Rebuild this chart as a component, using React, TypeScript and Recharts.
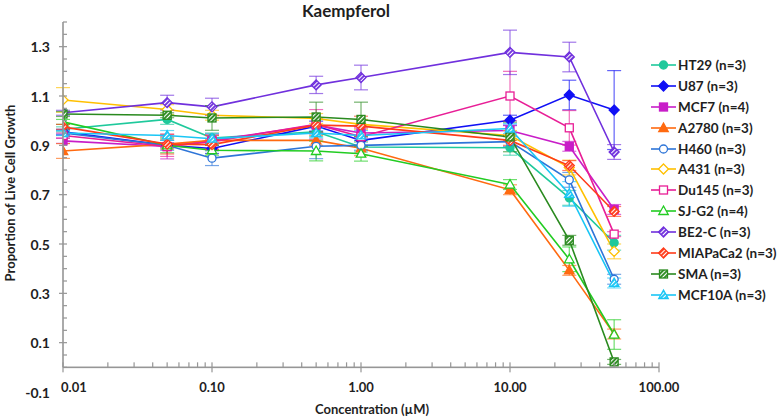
import { LineChart, Line, XAxis, YAxis, ErrorBar } from 'recharts';

const FONT = 'Lato, "Open Sans", sans-serif';
const AXIS = '#969696';
const TEXT = '#1f1f1f';

// concentrations (µM) tested for every cell line
const concentrations = [0.01, 0.05, 0.1, 0.5, 1, 10, 25, 50];

// mean proportion of live cell growth
const ht29 = [0.965, 1.005, 0.93, 0.955, 0.893, 0.89, 0.687, 0.505];
const u87 = [0.955, 0.9, 0.887, 0.978, 0.92, 1.002, 1.104, 1.043];
const mcf7 = [0.918, 0.895, 0.92, 0.982, 0.95, 0.96, 0.896, 0.64];
const a2780 = [0.877, 0.905, 0.92, 0.92, 0.888, 0.72, 0.393, 0.135];
const h460 = [0.95, 0.9, 0.848, 0.896, 0.9, 0.915, 0.76, 0.357];
const a431 = [1.084, 1.045, 1.022, 1.009, 0.985, 0.94, 0.81, 0.47];
const du145 = [0.94, 0.895, 0.915, 0.985, 0.935, 1.1, 0.971, 0.54];
const sjg2 = [0.995, 0.9, 0.88, 0.877, 0.866, 0.741, 0.438, 0.133];
const be2c = [1.032, 1.073, 1.056, 1.145, 1.175, 1.277, 1.258, 0.873];
const miapaca2 = [0.975, 0.905, 0.903, 0.982, 0.978, 0.92, 0.818, 0.632];
const sma = [1.027, 1.022, 1.011, 1.015, 1.005, 0.934, 0.515, 0.022];
const mcf10a = [0.95, 0.94, 0.927, 0.95, 0.94, 0.968, 0.703, 0.342];

// error bar half-lengths
const ht29Err = [0.01, 0.02, 0.02, 0.02, 0.02, 0.03, 0.03, 0.03];
const u87Err = [0.01, 0.01, 0.02, 0.02, 0.02, 0.02, 0.06, 0.16];
const mcf7Err = [0.01, 0.05, 0.02, 0.03, 0.02, 0.02, 0.02, 0.02];
const a2780Err = [0.03, 0.02, 0.02, 0.02, 0.03, 0.02, 0.02, 0.02];
const h460Err = [0.01, 0.02, 0.03, 0.05, 0.02, 0.02, 0.03, 0.02];
const a431Err = [0.05, 0.02, 0.02, 0.02, 0.02, 0.02, 0.03, 0.03];
const du145Err = [0.01, 0.04, 0.03, 0.06, 0.04, 0.1, 0.07, 0.01];
const sjg2Err = [0.01, 0.03, 0.02, 0.04, 0.03, 0.02, 0.05, 0.06];
const be2cErr = [0.01, 0.03, 0.035, 0.035, 0.05, 0.09, 0.06, 0.03];
const miapaca2Err = [0.01, 0.04, 0.02, 0.03, 0.04, 0.02, 0.02, 0.02];
const smaErr = [0.01, 0.01, 0.05, 0.06, 0.07, 0.06, 0.02, 0.01];
const mcf10aErr = [0.01, 0.02, 0.02, 0.02, 0.02, 0.02, 0.05, 0.02];

// axis ticks
const xMajorTicks = [0.01, 0.1, 1, 10, 100];
const xTickLabels = ['0.01', '0.10', '1.00', '10.00', '100.00'];
const xMinorSteps = [2, 3, 4, 5, 6, 7, 8, 9];
const yMajorTicks = [-0.1, 0.1, 0.3, 0.5, 0.7, 0.9, 1.1, 1.3];
const yMinorTicks = [0, 0.05, 0.15, 0.2, 0.25, 0.35, 0.4, 0.45, 0.55, 0.6, 0.65, 0.75, 0.8, 0.85, 0.95, 1.0, 1.05, 1.15, 1.2, 1.25, 1.35, 1.4];

// chart geometry
const W = 777;
const H = 418;
const MARGIN = { top: 22, right: 118, left: 0, bottom: 0 };
const Y_AXIS_W = 63;
const X_AXIS_H = 26;
const Y_MIN = -0.1;
const Y_MAX = 1.4;
const PLOT_W = W - Y_AXIS_W - MARGIN.right;
const PLOT_H = H - MARGIN.top - X_AXIS_H;
const ZERO_FROM_BOTTOM = (PLOT_H * (0 - Y_MIN)) / (Y_MAX - Y_MIN);

type Shape =
  | 'circle' | 'circleOpen'
  | 'diamond' | 'diamondOpen' | 'diamondHatch'
  | 'square' | 'squareOpen' | 'squareHatch'
  | 'triangle' | 'triangleOpen' | 'triangleHatch';

const series = [
  { key: 'ht29', name: 'HT29 (n=3)', color: '#1fc99c', shape: 'circle', values: ht29, errors: ht29Err },
  { key: 'u87', name: 'U87 (n=3)', color: '#1010f5', shape: 'diamond', values: u87, errors: u87Err },
  { key: 'mcf7', name: 'MCF7 (n=4)', color: '#c81ec8', shape: 'square', values: mcf7, errors: mcf7Err },
  { key: 'a2780', name: 'A2780 (n=3)', color: '#ff6a10', shape: 'triangle', values: a2780, errors: a2780Err },
  { key: 'h460', name: 'H460 (n=3)', color: '#2e75d8', shape: 'circleOpen', values: h460, errors: h460Err },
  { key: 'a431', name: 'A431 (n=3)', color: '#ffc000', shape: 'diamondOpen', values: a431, errors: a431Err },
  { key: 'du145', name: 'Du145 (n=3)', color: '#e81e96', shape: 'squareOpen', values: du145, errors: du145Err },
  { key: 'sjg2', name: 'SJ-G2 (n=4)', color: '#22cc22', shape: 'triangleOpen', values: sjg2, errors: sjg2Err },
  { key: 'be2c', name: 'BE2-C (n=3)', color: '#7030dd', shape: 'diamondHatch', values: be2c, errors: be2cErr },
  { key: 'miapaca2', name: 'MIAPaCa2 (n=3)', color: '#ff3b1a', shape: 'diamondHatch', values: miapaca2, errors: miapaca2Err },
  { key: 'sma', name: 'SMA (n=3)', color: '#2a8a1f', shape: 'squareHatch', values: sma, errors: smaErr },
  { key: 'mcf10a', name: 'MCF10A (n=3)', color: '#1ac6f5', shape: 'triangleHatch', values: mcf10a, errors: mcf10aErr },
] as { key: string; name: string; color: string; shape: Shape; values: number[]; errors: number[] }[];

const chartData = concentrations.map((x, i) => {
  const row: Record<string, number> = { x };
  series.forEach((s) => {
    row[s.key] = s.values[i];
    row[`${s.key}Err`] = s.errors[i];
  });
  return row;
});

const xMinorTicks = xMajorTicks.slice(0, -1).flatMap((d) => xMinorSteps.map((m) => d * m));
const xTicks = [...xMajorTicks, ...xMinorTicks].sort((a, b) => a - b);
const yTicks = [...yMajorTicks, ...yMinorTicks].sort((a, b) => a - b);

function Marker({ shape, color, cx, cy, hatchId }: { shape: Shape; color: string; cx: number; cy: number; hatchId: string }) {
  const open = shape.endsWith('Open');
  const hatch = shape.endsWith('Hatch');
  const fill = hatch ? `url(#${hatchId})` : open ? '#ffffff' : color;
  const sw = 1.3;
  if (shape.startsWith('circle')) {
    return <circle cx={cx} cy={cy} r={4} fill={fill} stroke={color} strokeWidth={sw} />;
  }
  if (shape.startsWith('diamond')) {
    const r = 5;
    const pts = `${cx},${cy - r} ${cx + r},${cy} ${cx},${cy + r} ${cx - r},${cy}`;
    return <polygon points={pts} fill={fill} stroke={color} strokeWidth={sw} />;
  }
  if (shape.startsWith('square')) {
    const s = 4;
    return <rect x={cx - s} y={cy - s} width={s * 2} height={s * 2} fill={fill} stroke={color} strokeWidth={sw} />;
  }
  const r = 5;
  const pts = `${cx},${cy - r} ${cx + r * 0.95},${cy + r * 0.7} ${cx - r * 0.95},${cy + r * 0.7}`;
  return <polygon points={pts} fill={fill} stroke={color} strokeWidth={sw} />;
}

// y ticks; the zero tick also draws both axis lines (x axis crosses at 0)
const YTick = ({ x, y, payload }: any) => {
  const v = Math.round(payload.value * 100) / 100;
  const major = yMajorTicks.some((t) => Math.abs(t - v) < 1e-6);
  return (
    <g>
      {v === 0 && (
        <>
          <rect x={x} y={y - 0.8} width={PLOT_W} height={1.6} fill={AXIS} />
          <rect x={x - 0.8} y={MARGIN.top} width={1.6} height={y - MARGIN.top} fill={AXIS} />
        </>
      )}
      {v >= 0 && (
        <rect x={major ? x - 4 : x} y={y - 0.6} width={major ? 8 : 4} height={1.2} fill={AXIS} />
      )}
      {major && (
        <text x={x - 13} y={y} textAnchor="end" dominantBaseline="central" fontFamily={FONT} fontWeight={700} fontSize={14} fill={TEXT}>
          {v.toFixed(1)}
        </text>
      )}
    </g>
  );
};

const XTick = ({ x, y, payload }: any) => {
  const i = xMajorTicks.findIndex((t) => Math.abs(t - payload.value) / t < 1e-6);
  const major = i >= 0;
  const y0 = y - ZERO_FROM_BOTTOM;
  const first = i === 0;
  return (
    <g>
      <rect x={x - 0.6} y={y0 - 5} width={1.2} height={major ? 10 : 5} fill={AXIS} />
      {major && (
        <text
          x={first ? x - 2 : x}
          y={y - 5}
          textAnchor={first ? 'start' : 'middle'}
          dominantBaseline="central"
          fontFamily={FONT}
          fontWeight={700}
          fontSize={13}
          fill={TEXT}
        >
          {xTickLabels[i]}
        </text>
      )}
    </g>
  );
};

export default function App() {
  return (
    <div style={{ position: 'absolute', left: 0, top: 0, width: W, height: H, background: '#fff', fontFamily: FONT }}>
      <LineChart width={W} height={H} data={chartData} margin={MARGIN}>
        <defs>
          {series
            .filter((s) => s.shape.endsWith('Hatch'))
            .map((s) => (
              <pattern key={s.key} id={`hatch-${s.key}`} width={3} height={3} patternUnits="userSpaceOnUse" patternTransform="rotate(45)">
                <rect width={3} height={3} fill={s.color} />
                <rect width={1.1} height={3} fill="#ffffff" />
              </pattern>
            ))}
        </defs>
        <XAxis
          dataKey="x"
          type="number"
          scale="log"
          domain={[0.01, 100]}
          ticks={xTicks}
          interval={0}
          axisLine={false}
          tickLine={false}
          tickSize={0}
          tickMargin={0}
          height={X_AXIS_H}
          tick={<XTick />}
          allowDataOverflow
        />
        <YAxis
          type="number"
          domain={[Y_MIN, Y_MAX]}
          ticks={yTicks}
          interval={0}
          axisLine={false}
          tickLine={false}
          tickSize={0}
          tickMargin={0}
          width={Y_AXIS_W}
          tick={<YTick />}
          allowDataOverflow
        />
        {series.map((s) => (
          <Line
            key={s.key}
            dataKey={s.key}
            name={s.name}
            type="linear"
            stroke={s.color}
            strokeWidth={1.6}
            isAnimationActive={false}
            activeDot={false}
            dot={(p: any) => (
              <Marker key={`${s.key}-${p.index}`} shape={s.shape} color={s.color} cx={p.cx} cy={p.cy} hatchId={`hatch-${s.key}`} />
            )}
          >
            <ErrorBar dataKey={`${s.key}Err`} direction="y" width={7} stroke={s.color} strokeWidth={1.2} strokeOpacity={0.65} isAnimationActive={false} />
          </Line>
        ))}
      </LineChart>

      {/* title and axis titles */}
      <div style={{ position: 'absolute', left: 346, top: 10, transform: 'translate(-50%, -50%)', fontSize: 17, fontWeight: 700, color: TEXT, whiteSpace: 'nowrap' }}>
        Kaempferol
      </div>
      <div style={{ position: 'absolute', left: 372, top: 409, transform: 'translate(-50%, -50%)', fontSize: 13, fontWeight: 700, color: TEXT, whiteSpace: 'nowrap' }}>
        Concentration (µM)
      </div>
      <div style={{ position: 'absolute', left: 10, top: 193, transform: 'translate(-50%, -50%) rotate(-90deg)', fontSize: 13, fontWeight: 700, color: TEXT, whiteSpace: 'nowrap' }}>
        Proportion of Live Cell Growth
      </div>

      {/* legend */}
      <div style={{ position: 'absolute', left: 651, top: 54.5 }}>
        {series.map((s) => (
          <div key={s.key} style={{ display: 'flex', alignItems: 'center', height: 20.9 }}>
            <svg width={26} height={14} style={{ display: 'block' }}>
              <line x1={0} x2={25} y1={7} y2={7} stroke={s.color} strokeWidth={1.6} />
              <Marker shape={s.shape} color={s.color} cx={12.5} cy={7} hatchId={`hatch-${s.key}`} />
            </svg>
            <span style={{ marginLeft: 1, fontSize: 13.5, fontWeight: 700, color: TEXT, whiteSpace: 'nowrap' }}>{s.name}</span>
          </div>
        ))}
      </div>
    </div>
  );
}
